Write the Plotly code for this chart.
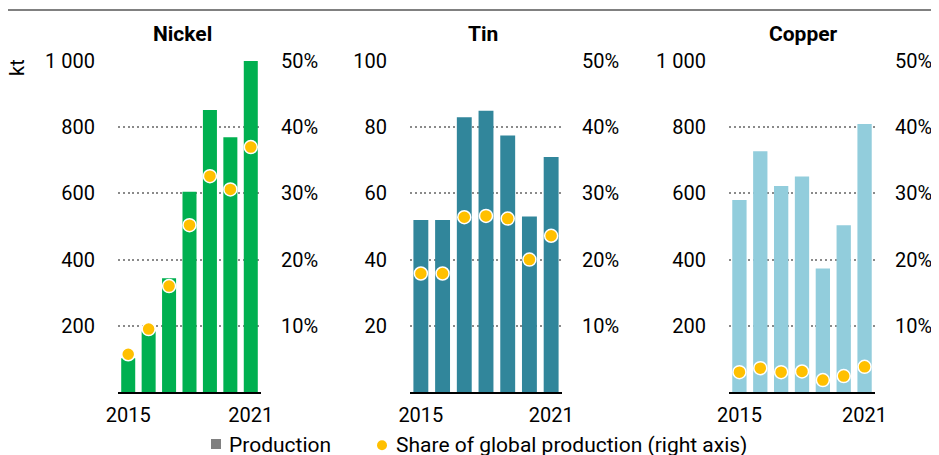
import plotly.graph_objects as go

years = [2015, 2016, 2017, 2018, 2019, 2020, 2021]

nickel_prod = [102, 183, 344, 605, 852, 770, 1000]
nickel_share = [0.057, 0.095, 0.160, 0.252, 0.326, 0.306, 0.370]

tin_prod = [52, 52, 83, 85, 77.5, 53, 71]
tin_share = [0.179, 0.179, 0.264, 0.266, 0.262, 0.200, 0.236]

copper_prod = [580, 727, 622, 651, 373, 504, 810]
copper_share = [0.030, 0.036, 0.030, 0.031, 0.018, 0.024, 0.038]

titles = ["Nickel", "Tin", "Copper"]
colors = ["#00B050", "#31869B", "#92CDDC"]
prods = [nickel_prod, tin_prod, copper_prod]
shares = [nickel_share, tin_share, copper_share]
left_ranges = [[0, 1000], [0, 100], [0, 1000]]
left_ticks = [[200, 400, 600, 800, 1000], [20, 40, 60, 80, 100], [200, 400, 600, 800, 1000]]
left_ticktext = [["200", "400", "600", "800", "1 000"], ["20", "40", "60", "80", "100"],
                 ["200", "400", "600", "800", "1 000"]]
share_ticks = [0.1, 0.2, 0.3, 0.4, 0.5]
year_ticks = [2015, 2021]
legend_labels = ["Production", "Share of global production (right axis)"]

W, H = 939, 455
OX, OY = 8, 8          # page body margin offset
FONT = "Roboto"
DOT = "#FFC000"
LEG_GREY = "#808080"
FS = 20


def PX(x):
    return (x - OX) / W


def PY(y):
    return 1 - (y - OY) / H


# pixel layout (screen coordinates)
xdom_px = [(118, 261), (410, 562), (729, 875)]
title_x = [182.5, 483, 803]
ybot, ytop = 392, 61

fig = go.Figure()
layout = dict(
    width=W, height=H,
    margin=dict(l=0, r=0, t=0, b=0, pad=0, autoexpand=False),
    paper_bgcolor="white", plot_bgcolor="rgba(0,0,0,0)",
    font=dict(family=FONT, size=FS, color="#000000"),
    bargap=0.314,
    showlegend=False,
)

ydom = [PY(ybot), PY(ytop)]
annotations = []
for i in range(3):
    xn = "" if i == 0 else str(i + 1)
    yl = "" if i == 0 else str(2 * i + 1)
    yr = str(2 * i + 2)
    fig.add_trace(go.Bar(x=years, y=prods[i], marker=dict(color=colors[i], line=dict(width=0)),
                         xaxis="x" + xn, yaxis="y" + yl, name=legend_labels[0]))
    fig.add_trace(go.Scatter(x=years, y=shares[i], mode="markers",
                             marker=dict(color=DOT, size=13, line=dict(color="white", width=1.5)),
                             xaxis="x" + xn, yaxis="y" + yr, name=legend_labels[1]))
    xd = [PX(xdom_px[i][0]), PX(xdom_px[i][1])]
    layout["xaxis" + xn] = dict(
        domain=xd, anchor="y" + yl, range=[2014.5, 2021.5],
        tickvals=year_ticks, ticks="", showgrid=False, zeroline=False,
        showline=True, linecolor="#000000", linewidth=2,
        ticklabelstandoff=4, tickfont=dict(size=FS), automargin=False,
    )
    layout["yaxis" + yl] = dict(
        domain=ydom, anchor="x" + xn, range=left_ranges[i],
        tickvals=left_ticks[i], ticktext=left_ticktext[i], ticks="",
        showgrid=True, gridcolor="#8a8a8a", gridwidth=1.8, griddash="2px,2.8px",
        zeroline=False, showline=False, ticklabelstandoff=22, tickfont=dict(size=FS),
        automargin=False,
    )
    layout["yaxis" + yr] = dict(
        domain=ydom, anchor="x" + xn, overlaying="y" + yl, side="right", range=[0, 0.5],
        tickvals=share_ticks, tickformat=".0%", ticks="", showgrid=False, zeroline=False,
        showline=False, ticklabelstandoff=19, tickfont=dict(size=FS), automargin=False,
    )
    annotations.append(dict(text="<b>" + titles[i] + "</b>", xref="paper", yref="paper",
                            x=PX(title_x[i]), y=PY(34), xanchor="center", yanchor="middle",
                            showarrow=False, font=dict(size=21)))

annotations.append(dict(text="kt", xref="paper", yref="paper", x=PX(17), y=PY(68),
                        textangle=-90, xanchor="center", yanchor="middle", showarrow=False,
                        font=dict(size=FS)))

# legend (drawn manually for exact spacing)
leg_y = 444.5
annotations.append(dict(text=legend_labels[0], xref="paper", yref="paper", x=PX(227), y=PY(leg_y),
                        xanchor="left", yanchor="middle", showarrow=False, font=dict(size=21)))
annotations.append(dict(text=legend_labels[1], xref="paper", yref="paper", x=PX(394), y=PY(leg_y),
                        xanchor="left", yanchor="middle", showarrow=False, font=dict(size=21)))

shapes = [
    dict(type="line", xref="paper", yref="paper", x0=PX(0), x1=1, y0=PY(10), y1=PY(10),
         line=dict(color="#808080", width=2)),
    dict(type="rect", xref="paper", yref="paper", x0=PX(211), x1=PX(221), y0=PY(449), y1=PY(439),
         fillcolor=LEG_GREY, line=dict(width=0)),
    dict(type="circle", xref="paper", yref="paper", x0=PX(377), x1=PX(387), y0=PY(450.3), y1=PY(440.3),
         fillcolor=DOT, line=dict(width=0)),
]

layout["annotations"] = annotations
layout["shapes"] = shapes

fig.update_layout(**layout)
fig.write_html("out.html")
